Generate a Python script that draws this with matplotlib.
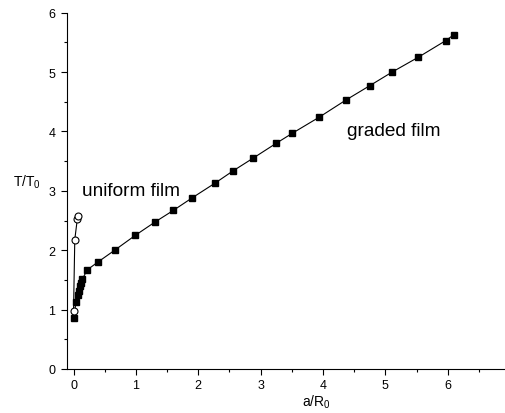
import matplotlib
matplotlib.use("Agg")
import matplotlib.pyplot as plt
from matplotlib.ticker import MultipleLocator

plt.rcParams['font.family'] = ['Liberation Sans', 'DejaVu Sans']
plt.rcParams['mathtext.default'] = 'regular'

graded_x = [0.0, 0.04, 0.07, 0.09, 0.11, 0.12, 0.14, 0.22, 0.39, 0.66, 0.99, 1.30, 1.60, 1.90,
            2.27, 2.55, 2.88, 3.25, 3.51, 3.94, 4.37, 4.75, 5.11, 5.53, 5.97, 6.10]
graded_y = [0.86, 1.12, 1.25, 1.32, 1.39, 1.45, 1.51, 1.67, 1.80, 2.00, 2.25, 2.47, 2.67, 2.88,
            3.13, 3.33, 3.55, 3.80, 3.97, 4.24, 4.53, 4.77, 5.00, 5.25, 5.53, 5.63]
uniform_x = [0.0, 0.02, 0.06, 0.07]
uniform_y = [0.98, 2.18, 2.52, 2.58]

fig = plt.figure(figsize=(5.05, 4.14), dpi=100)
ax = fig.add_axes([67.3/505, 44/414, 455.3/505, 356.4/414])

ax.plot(graded_x, graded_y, color='black', lw=0.8, marker='s', ms=5, mfc='black', mec='black')
ax.plot(uniform_x, uniform_y, color='black', lw=0.8, marker='o', ms=5, mfc='white', mec='black', mew=0.8)

ax.set_xlim(-0.1, 7.2)
ax.set_ylim(0, 6)
ax.xaxis.set_major_locator(MultipleLocator(1))
ax.xaxis.set_minor_locator(MultipleLocator(0.5))
ax.yaxis.set_major_locator(MultipleLocator(1))
ax.yaxis.set_minor_locator(MultipleLocator(0.5))
ax.spines['top'].set_visible(False)
ax.spines['right'].set_visible(False)
ax.tick_params(which='major', direction='out', length=4, width=0.8, labelsize=9)
ax.tick_params(axis='x', which='major', pad=3.5)
ax.tick_params(axis='y', which='major', pad=4.5)
ax.tick_params(which='minor', direction='out', length=2.5, width=0.8)

ax.set_ylabel('T/T$_0$', rotation=0, fontsize=10, va='baseline', ha='center')
ax.yaxis.set_label_coords(-0.0885, 0.514)
ax.set_xlabel('a/R$_0$', fontsize=10, va='baseline', ha='center')
ax.xaxis.set_label_coords(0.548, -0.104)

ax.text(0.13, 3.0, 'uniform film', fontsize=13.7, ha='left', va='center')
ax.text(4.38, 4.02, 'graded film', fontsize=13.7, ha='left', va='center')

fig.savefig('out.png', dpi=100)
